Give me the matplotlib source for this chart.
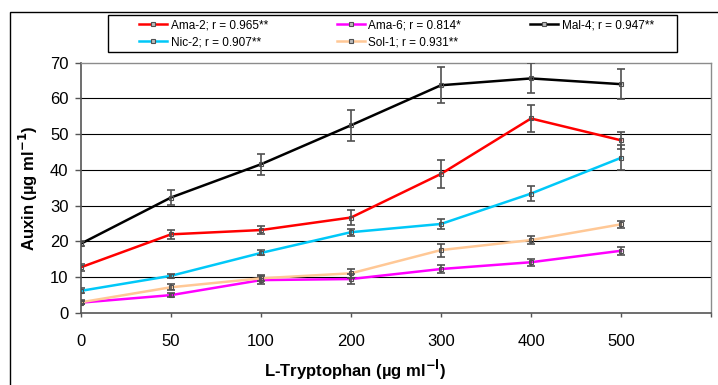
import matplotlib
matplotlib.use("Agg")
import matplotlib.pyplot as plt
from matplotlib.patches import Rectangle
from matplotlib.lines import Line2D

plt.rcParams["font.family"] = ["Liberation Sans", "DejaVu Sans"]

# tryptophan doses (categorical x axis)
doses = ["0", "50", "100", "200", "300", "400", "500"]

series_names = [
    "Ama-2; r = 0.965**",
    "Ama-6; r = 0.814*",
    "Mal-4; r = 0.947**",
    "Nic-2; r = 0.907**",
    "Sol-1; r = 0.931**",
]
series_colors = ["#FF0000", "#FF00FF", "#000000", "#00C8F8", "#FFC896"]

ama2 = [12.8, 22.0, 23.2, 26.7, 38.9, 54.4, 48.3]
ama2_err = [1.0, 1.2, 1.1, 2.1, 4.0, 3.8, 2.3]
ama6 = [2.9, 5.0, 9.2, 9.5, 12.3, 14.2, 17.4]
ama6_err = [0.5, 0.6, 1.2, 1.3, 1.0, 1.0, 1.1]
mal4 = [19.4, 32.3, 41.6, 52.5, 63.7, 65.6, 64.0]
mal4_err = [0.7, 2.2, 2.9, 4.3, 5.0, 4.2, 4.1]
nic2 = [6.2, 10.4, 16.8, 22.6, 24.9, 33.4, 43.4]
nic2_err = [0.7, 0.5, 0.7, 1.0, 1.5, 2.0, 3.5]
sol1 = [3.0, 7.2, 9.7, 11.1, 17.6, 20.4, 24.8]
sol1_err = [0.5, 0.8, 0.8, 1.2, 1.8, 1.1, 1.0]

values = [ama2, ama6, mal4, nic2, sol1]
errors = [ama2_err, ama6_err, mal4_err, nic2_err, sol1_err]

W, H = 718, 385
fig = plt.figure(figsize=(W / 100, H / 100), dpi=100)
ax = fig.add_axes([81 / W, 1 - 313 / H, (711 - 81) / W, (313 - 62.7) / H])

xs = list(range(len(doses)))
for grid_y in range(10, 70, 10):
    ax.axhline(grid_y, color="black", linewidth=0.8, zorder=1)

for vals, errs, col in zip(values, errors, series_colors):
    ax.plot(xs, vals, color=col, linewidth=1.8, zorder=3)
    ax.errorbar(xs, vals, yerr=errs, fmt="none", ecolor="#505050",
                elinewidth=1.2, capsize=3.2, capthick=1.2, zorder=4)
    ax.plot(xs, vals, linestyle="none", marker="s", markersize=3,
            markerfacecolor="none", markeredgecolor="#505050",
            markeredgewidth=0.8, zorder=5)

ax.set_xlim(0, 7)
ax.set_ylim(0, 70)
ax.set_yticks(range(0, 80, 10))
ax.set_xticks(range(0, 8))
ax.set_xticklabels(doses + [""])

for side in ["top", "right"]:
    ax.spines[side].set_color("#8c8c8c")
    ax.spines[side].set_linewidth(1.0)
ax.spines["bottom"].set_color("#555555")
ax.spines["bottom"].set_linewidth(1.2)
ax.spines["left"].set_color("#555555")
ax.spines["left"].set_linewidth(1.2)

ax.tick_params(axis="y", direction="out", length=4, width=1, pad=5,
               labelsize=12, colors="#555555", labelcolor="black")
ax.tick_params(axis="x", direction="out", length=3, width=1, pad=12,
               labelsize=12, colors="#555555", labelcolor="black")

ax.set_ylabel(r"Auxin (µg ml$^{\mathbf{-1}}$)", fontsize=12,
              fontweight="bold")
ax.yaxis.set_label_coords(-(81 - 40) / (711 - 81), 0.5)
ax.set_xlabel(r"L-Tryptophan (µg ml$^{\mathbf{-l}}$)", fontsize=12,
              fontweight="bold")
ax.xaxis.set_label_coords((355 - 81) / (711 - 81), -(358 - 313) / (313 - 62.7))

# outer chart frame (only left and top visible)
fig.patches.append(Rectangle((10 / W, -0.05), 1.1, 1 - 12 / H + 0.05,
                             transform=fig.transFigure, fill=False,
                             edgecolor="black", linewidth=1.0))
# legend box
fig.patches.append(Rectangle((108 / W, 1 - 52 / H), (677 - 108) / W, 37 / H,
                             transform=fig.transFigure, fill=False,
                             edgecolor="black", linewidth=1.0))

handles = []
for name, col in zip(series_names, series_colors):
    handles.append(Line2D([], [], color=col, linewidth=1.8, marker="s",
                          markersize=3, markerfacecolor="#bbbbbb",
                          markeredgecolor="#505050", markeredgewidth=0.8,
                          label=name))
order = [0, 3, 1, 4, 2]
leg = fig.legend([handles[i] for i in order],
                 [series_names[i] for i in order],
                 ncol=3, loc="upper left",
                 bbox_to_anchor=(139 / W, 1 - 19 / H),
                 frameon=False, fontsize=8.5, borderpad=0, borderaxespad=0,
                 handlelength=2.4, handletextpad=0.3, columnspacing=5.8,
                 labelspacing=0.45)

fig.savefig("out.png", dpi=100)
